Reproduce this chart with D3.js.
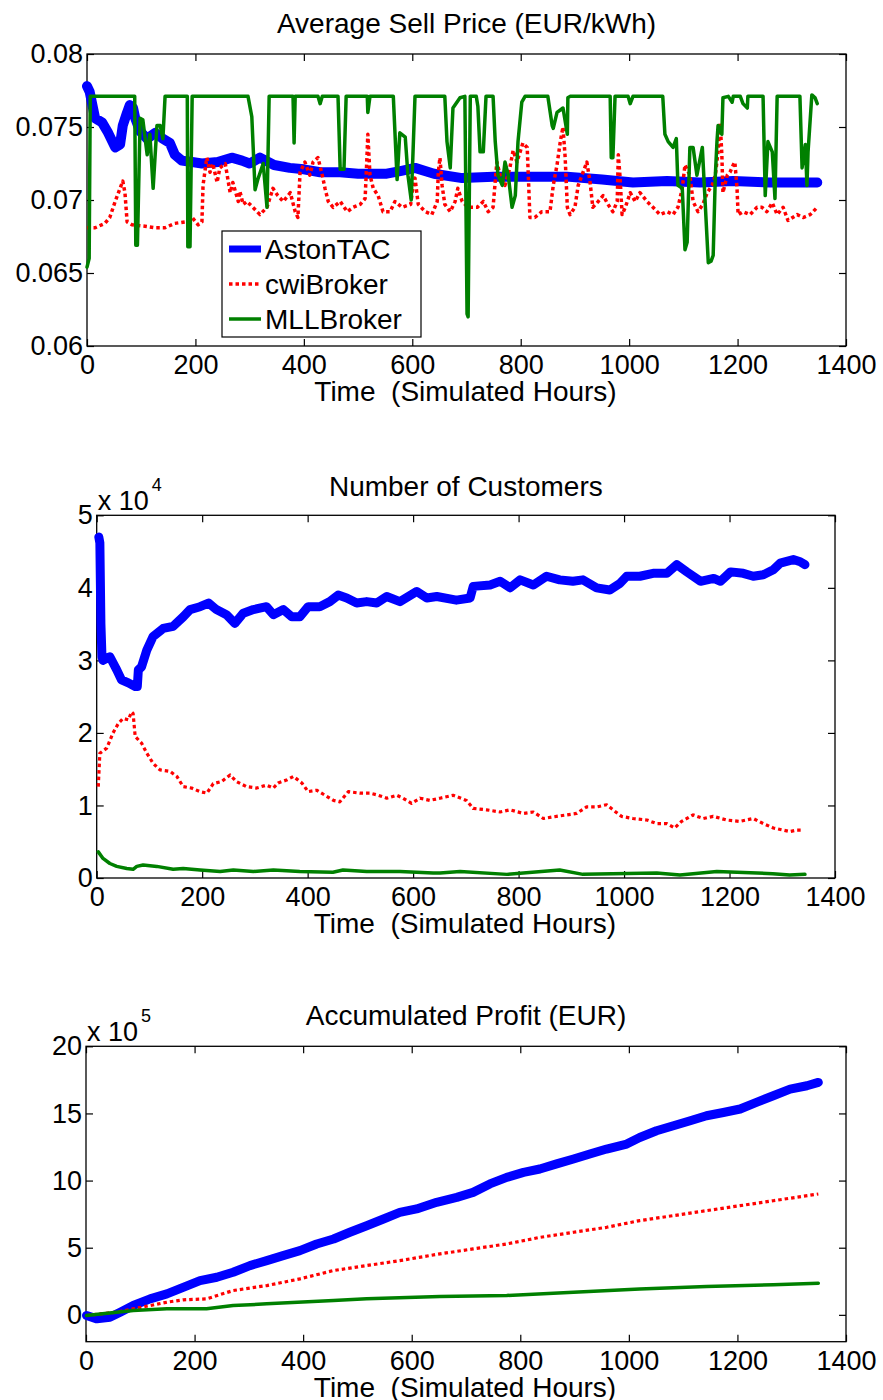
<!DOCTYPE html>
<html><head><meta charset="utf-8">
<script src="https://cdn.jsdelivr.net/npm/d3@7"></script>
<style>
body{margin:0;background:#fff}
text{font-family:"Liberation Sans",Arial,Helvetica,sans-serif;fill:#000}
</style>
</head><body>
<svg id="c" width="883" height="1400" xmlns="http://www.w3.org/2000/svg"></svg>
<script>
// ---------------- DATA ----------------
const seriesNames = ["AstonTAC", "cwiBroker", "MLLBroker"];
const hourTicks = [0, 200, 400, 600, 800, 1000, 1200, 1400];
const priceTicks = [0.06, 0.065, 0.07, 0.075, 0.08];
const priceTickLabels = ["0.06", "0.065", "0.07", "0.075", "0.08"];
const customerTicks = [0, 1, 2, 3, 4, 5];       // x 10^4
const profitTicks = [0, 5, 10, 15, 20];          // x 10^5

// Average sell price (EUR/kWh): [hour, value]
const priceAston = [[0,.0778],[5,.0774],[15,.0756],[28,.0753],[39,.0746],[52,.0736],[61,.0738],[66,.0751],[74,.0760],[79,.0765],[85,.0763],[89,.0756],[98,.0747],[111,.0742],[126,.0746],[140,.0742],[153,.0739],[162,.0731],[175,.0727],[194,.0726],[212,.0725],[241,.0726],[267,.0729],[286,.0727],[300,.0725],[319,.0729],[345,.0724],[374,.0722],[400,.0721],[430,.0719],[467,.0719],[500,.0718],[553,.0718],[580,.0720],[605,.0722],[640,.0718],[692,.0715],[750,.0716],[814,.0716],[885,.0716],[950,.0714],[1007,.0712],[1070,.0713],[1131,.0712],[1192,.0713],[1260,.0712],[1347,.0712]];
const priceCwi = [[0,.0681],[15,.0681],[33,.0684],[42,.0688],[52,.0699],[61,.0708],[66,.0713],[70,.0705],[74,.0685],[83,.0683],[107,.0682],[125,.0681],[144,.0681],[162,.0684],[181,.0685],[194,.0688],[205,.0683],[212,.0685],[214,.0710],[221,.0729],[227,.0719],[232,.0725],[240,.0712],[245,.0722],[255,.0725],[264,.0705],[269,.0712],[279,.0699],[282,.0706],[288,.0697],[295,.0699],[306,.0695],[319,.0690],[332,.0695],[343,.0708],[352,.0703],[362,.0699],[375,.0705],[384,.0692],[389,.0688],[393,.0719],[402,.0726],[411,.0717],[417,.0726],[426,.0729],[434,.0717],[439,.0708],[445,.0699],[454,.0695],[467,.0699],[480,.0692],[491,.0695],[504,.0697],[513,.0701],[516,.0726],[518,.0745],[522,.0717],[528,.0708],[537,.0703],[546,.0692],[559,.0692],[568,.0699],[581,.0695],[597,.0697],[601,.0708],[605,.0715],[611,.0697],[624,.0692],[636,.0690],[646,.0699],[648,.0719],[651,.0729],[655,.0710],[660,.0697],[670,.0692],[679,.0699],[684,.0708],[692,.0699],[703,.0695],[720,.0695],[731,.0699],[740,.0692],[749,.0695],[756,.0726],[762,.0717],[771,.0710],[780,.0722],[786,.0734],[793,.0726],[804,.0739],[812,.0736],[814,.0717],[817,.0688],[826,.0688],[839,.0692],[854,.0692],[860,.0710],[867,.0724],[873,.0740],[878,.0750],[882,.0729],[886,.0695],[891,.0690],[900,.0695],[906,.0710],[913,.0717],[922,.0726],[928,.0712],[933,.0695],[943,.0699],[952,.0703],[961,.0697],[970,.0692],[978,.0699],[980,.0731],[983,.0717],[987,.0690],[993,.0695],[1002,.0705],[1011,.0699],[1020,.0705],[1033,.0699],[1044,.0695],[1057,.0690],[1070,.0692],[1081,.0690],[1090,.0695],[1098,.0708],[1103,.0724],[1112,.0717],[1118,.0699],[1127,.0692],[1136,.0697],[1144,.0705],[1153,.0710],[1159,.0717],[1164,.0733],[1168,.0753],[1171,.0731],[1173,.0705],[1181,.0717],[1186,.0719],[1192,.0724],[1195,.0726],[1199,.0708],[1201,.0690],[1210,.0692],[1223,.0690],[1236,.0695],[1245,.0695],[1254,.0692],[1264,.0698],[1273,.0690],[1284,.0695],[1293,.0686],[1310,.0690],[1321,.0688],[1334,.0690],[1347,.0695]];
const priceMll = [[0,.0654],[4,.0660],[6,.0771],[88,.0771],[90,.0669],[93,.0669],[98,.0756],[103,.0755],[111,.0731],[116,.0745],[122,.0708],[129,.0751],[135,.0751],[140,.0742],[144,.0771],[185,.0771],[186,.0668],[190,.0668],[194,.0771],[297,.0771],[304,.0757],[310,.0707],[315,.0714],[325,.0725],[332,.0695],[336,.0771],[380,.0771],[382,.0739],[384,.0771],[426,.0771],[430,.0766],[434,.0771],[463,.0771],[467,.0721],[474,.0721],[478,.0771],[517,.0771],[518,.0760],[522,.0771],[565,.0771],[572,.0714],[577,.0746],[587,.0743],[592,.0717],[598,.0700],[601,.0729],[605,.0771],[660,.0771],[664,.0740],[670,.0722],[675,.0763],[688,.0770],[697,.0771],[701,.0622],[703,.0620],[707,.0771],[718,.0771],[721,.0764],[725,.0733],[731,.0733],[736,.0771],[749,.0771],[753,.0740],[758,.0717],[766,.0710],[771,.0726],[777,.0717],[784,.0695],[790,.0703],[795,.0740],[802,.0767],[808,.0771],[850,.0771],[858,.0751],[860,.0749],[867,.0760],[878,.0763],[886,.0745],[887,.0770],[891,.0771],[965,.0771],[967,.0729],[970,.0729],[974,.0771],[998,.0771],[1002,.0766],[1007,.0771],[1062,.0771],[1066,.0745],[1072,.0740],[1081,.0736],[1087,.0742],[1090,.0710],[1098,.0708],[1103,.0666],[1107,.0671],[1112,.0736],[1118,.0736],[1125,.0717],[1135,.0736],[1140,.0700],[1146,.0657],[1151,.0658],[1155,.0662],[1159,.0717],[1162,.0740],[1164,.0751],[1171,.0745],[1173,.0770],[1183,.0771],[1190,.0767],[1192,.0771],[1205,.0771],[1210,.0766],[1218,.0763],[1219,.0771],[1247,.0771],[1251,.0703],[1256,.0740],[1264,.0733],[1269,.0701],[1273,.0771],[1315,.0771],[1319,.0722],[1325,.0738],[1328,.0710],[1330,.0733],[1337,.0772],[1343,.0770],[1347,.0766]];

// Number of customers (x 10^4): [hour, value]
const custAston = [[4,4.70],[6,4.62],[8,3.50],[10,3.05],[12,3.00],[25,3.05],[38,2.87],[47,2.73],[60,2.69],[73,2.64],[77,2.64],[79,2.87],[85,2.91],[95,3.14],[107,3.33],[126,3.44],[145,3.47],[164,3.60],[177,3.70],[196,3.74],[212,3.79],[227,3.70],[246,3.63],[262,3.51],[278,3.65],[297,3.70],[322,3.74],[335,3.63],[354,3.70],[370,3.60],[385,3.60],[401,3.74],[423,3.74],[442,3.81],[458,3.90],[474,3.86],[493,3.79],[512,3.81],[531,3.79],[550,3.88],[575,3.81],[607,3.95],[626,3.86],[645,3.88],[682,3.83],[708,3.86],[714,4.02],[746,4.04],[765,4.09],[784,4.00],[803,4.11],[828,4.04],[853,4.16],[878,4.11],[903,4.09],[922,4.11],[948,4.00],[973,3.97],[992,4.06],[1005,4.16],[1030,4.16],[1055,4.20],[1081,4.20],[1100,4.32],[1119,4.22],[1145,4.09],[1170,4.13],[1183,4.09],[1202,4.22],[1226,4.20],[1245,4.16],[1264,4.18],[1283,4.25],[1296,4.34],[1321,4.39],[1334,4.36],[1343,4.32]];
const custCwi = [[3,1.26],[6,1.72],[19,1.79],[31,2.00],[41,2.13],[50,2.20],[60,2.18],[66,2.29],[69,2.27],[73,1.95],[85,1.86],[95,1.72],[107,1.58],[120,1.49],[139,1.47],[152,1.40],[164,1.26],[180,1.24],[196,1.19],[209,1.17],[221,1.30],[237,1.33],[253,1.42],[265,1.33],[284,1.26],[303,1.24],[322,1.28],[335,1.24],[344,1.31],[360,1.35],[373,1.40],[389,1.31],[401,1.19],[417,1.21],[433,1.14],[449,1.07],[461,1.05],[477,1.19],[499,1.17],[518,1.17],[534,1.14],[550,1.10],[569,1.14],[581,1.10],[597,1.03],[613,1.10],[632,1.07],[651,1.10],[676,1.14],[701,1.07],[714,0.96],[739,0.94],[765,0.91],[784,0.94],[809,0.89],[828,0.91],[847,0.82],[872,0.85],[891,0.87],[910,0.89],[929,0.98],[948,0.98],[967,1.01],[979,0.94],[995,0.85],[1017,0.82],[1043,0.80],[1062,0.75],[1081,0.75],[1096,0.69],[1109,0.78],[1131,0.87],[1150,0.82],[1169,0.85],[1194,0.80],[1219,0.78],[1245,0.82],[1264,0.75],[1283,0.69],[1302,0.66],[1314,0.64],[1327,0.66],[1340,0.66]];
const custMll = [[3,0.36],[12,0.27],[25,0.20],[38,0.16],[57,0.13],[69,0.12],[76,0.16],[88,0.18],[114,0.16],[145,0.12],[164,0.13],[196,0.11],[234,0.09],[259,0.11],[297,0.09],[335,0.11],[385,0.09],[448,0.08],[467,0.11],[512,0.09],[575,0.09],[638,0.07],[651,0.07],[689,0.09],[778,0.05],[878,0.11],[922,0.05],[1062,0.07],[1106,0.04],[1176,0.09],[1282,0.06],[1314,0.04],[1343,0.05]];

// Accumulated profit (x 10^5 EUR): [hour, value]
const profitAston = [[1,-0.05],[20,-0.3],[44,-0.18],[63,0.2],[87,0.7],[118,1.19],[149,1.56],[179,2.05],[210,2.55],[241,2.80],[271,3.17],[302,3.67],[333,4.04],[363,4.41],[394,4.78],[425,5.28],[456,5.65],[486,6.15],[517,6.64],[548,7.14],[578,7.63],[609,7.89],[646,8.38],[683,8.75],[713,9.12],[744,9.75],[775,10.24],[806,10.61],[836,10.86],[867,11.24],[898,11.61],[928,11.98],[959,12.35],[996,12.72],[1020,13.21],[1051,13.71],[1082,14.08],[1113,14.46],[1143,14.83],[1174,15.07],[1205,15.33],[1235,15.82],[1266,16.32],[1297,16.81],[1328,17.06],[1349,17.31]];
const profitCwi = [[1,-0.05],[26,0.07],[57,0.2],[87,0.45],[118,0.69],[149,0.94],[179,1.12],[222,1.19],[271,1.81],[333,2.18],[394,2.68],[456,3.30],[517,3.67],[578,4.04],[652,4.54],[713,4.91],[775,5.28],[836,5.77],[898,6.15],[959,6.52],[1020,7.02],[1082,7.39],[1143,7.76],[1205,8.13],[1266,8.50],[1349,9.00]];
const profitMll = [[1,-0.05],[26,0.07],[87,0.32],[149,0.45],[222,0.45],[271,0.69],[333,0.82],[456,1.06],[517,1.19],[652,1.36],[775,1.44],[898,1.68],[1020,1.93],[1143,2.11],[1266,2.25],[1349,2.35]];

// ---------------- DRAWING ----------------
const svg = d3.select("#c");
const TICK_FONT = 27, TITLE_FONT = 28;
const xLabel = "Time  (Simulated Hours)";

function panel(cfg) {
  const x = d3.scaleLinear().domain([0, 1400]).range([cfg.l, cfg.r]);
  const y = d3.scaleLinear().domain(cfg.yDomain).range([cfg.b, cfg.t]);
  const g = svg.append("g");

  // frame
  g.append("rect").attr("x", cfg.l).attr("y", cfg.t)
    .attr("width", cfg.r - cfg.l).attr("height", cfg.b - cfg.t)
    .attr("fill", "none").attr("stroke", "#000").attr("stroke-width", 1.3);

  // axes with inward ticks
  const style = sel => {
    sel.select(".domain").remove();
    sel.selectAll(".tick line").attr("stroke", "#000").attr("stroke-width", 1.2);
    sel.selectAll("text").attr("font-size", TICK_FONT)
      .attr("font-family", "'Liberation Sans', Arial, sans-serif").attr("fill", "#000");
    sel.attr("font-family", null).attr("font-size", null);
  };
  g.append("g").attr("transform", `translate(0,${cfg.b})`)
    .call(d3.axisBottom(x).tickValues(hourTicks).tickSize(-7).tickPadding(9).tickFormat(d => String(d))).call(style);
  g.append("g").attr("transform", `translate(0,${cfg.t})`)
    .call(d3.axisTop(x).tickValues(hourTicks).tickSize(-7).tickFormat("")).call(style);
  g.append("g").attr("transform", `translate(${cfg.l},0)`)
    .call(d3.axisLeft(y).tickValues(cfg.yTicks).tickSize(-7).tickPadding(4).tickFormat(cfg.yFormat)).call(style);
  g.append("g").attr("transform", `translate(${cfg.r},0)`)
    .call(d3.axisRight(y).tickValues(cfg.yTicks).tickSize(-7).tickFormat("")).call(style);

  // series
  const line = d3.line().x(d => x(d[0])).y(d => y(d[1]));
  cfg.series.forEach(s => {
    g.append("path").datum(s.data).attr("d", line)
      .attr("fill", "none").attr("stroke", s.color).attr("stroke-width", s.width)
      .attr("stroke-linejoin", "round").attr("stroke-linecap", s.dash ? "butt" : "round")
      .attr("stroke-dasharray", s.dash || null);
  });

  // title
  g.append("text").attr("x", (cfg.l + cfg.r) / 2).attr("y", cfg.titleY)
    .attr("text-anchor", "middle").attr("font-size", TITLE_FONT).text(cfg.title);
  // x label
  g.append("text").attr("x", (cfg.l + cfg.r) / 2 - 1).attr("y", cfg.b + 55)
    .attr("text-anchor", "middle").attr("font-size", TITLE_FONT)
    .style("white-space", "pre").attr("xml:space", "preserve").text(xLabel);
  // exponent
  if (cfg.exponent) {
    g.append("text").attr("x", cfg.l + 1).attr("y", cfg.t - 5)
      .attr("font-size", TICK_FONT).text("x 10");
    g.append("text").attr("x", cfg.l + 55).attr("y", cfg.t - 24)
      .attr("font-size", 18).text(cfg.exponent);
  }
  return {x, y, g};
}

const blue = "#0000ff", red = "#ff0000", green = "#008000";

const p1 = panel({
  l: 87, r: 846, t: 54, b: 346, yDomain: [0.06, 0.08], yTicks: priceTicks,
  yFormat: (d, i) => priceTickLabels[i], title: "Average Sell Price (EUR/kWh)", titleY: 33,
  series: [
    {data: priceAston, color: blue, width: 10},
    {data: priceCwi, color: red, width: 3.5, dash: "3.5,3"},
    {data: priceMll, color: green, width: 3.5}
  ]
});

// legend
(function () {
  const lg = p1.g.append("g");
  lg.append("rect").attr("x", 222).attr("y", 231).attr("width", 199).attr("height", 106)
    .attr("fill", "#fff").attr("stroke", "#000").attr("stroke-width", 1.2);
  const st = [
    {color: blue, width: 7},
    {color: red, width: 3.5, dash: "3.5,3"},
    {color: green, width: 3.5}
  ];
  seriesNames.forEach((n, i) => {
    const cy = 249 + i * 35;
    lg.append("line").attr("x1", 229).attr("x2", 261).attr("y1", cy).attr("y2", cy)
      .attr("stroke", st[i].color).attr("stroke-width", st[i].width)
      .attr("stroke-dasharray", st[i].dash || null);
    lg.append("text").attr("x", 265).attr("y", cy + 10).attr("font-size", TITLE_FONT).text(n);
  });
})();

panel({
  l: 96.7, r: 835, t: 515.3, b: 878, yDomain: [0, 5], yTicks: customerTicks,
  yFormat: d => String(d), title: "Number of Customers", titleY: 496, exponent: "4",
  series: [
    {data: custAston, color: blue, width: 9},
    {data: custCwi, color: red, width: 3.2, dash: "3.5,3"},
    {data: custMll, color: green, width: 3.5}
  ]
});

panel({
  l: 86, r: 846, t: 1046.3, b: 1341.7, yDomain: [-2, 20], yTicks: profitTicks,
  yFormat: d => String(d), title: "Accumulated Profit (EUR)", titleY: 1025, exponent: "5",
  series: [
    {data: profitAston, color: blue, width: 9},
    {data: profitCwi, color: red, width: 3.2, dash: "3.5,3"},
    {data: profitMll, color: green, width: 3.5}
  ]
});
</script>
</body></html>
